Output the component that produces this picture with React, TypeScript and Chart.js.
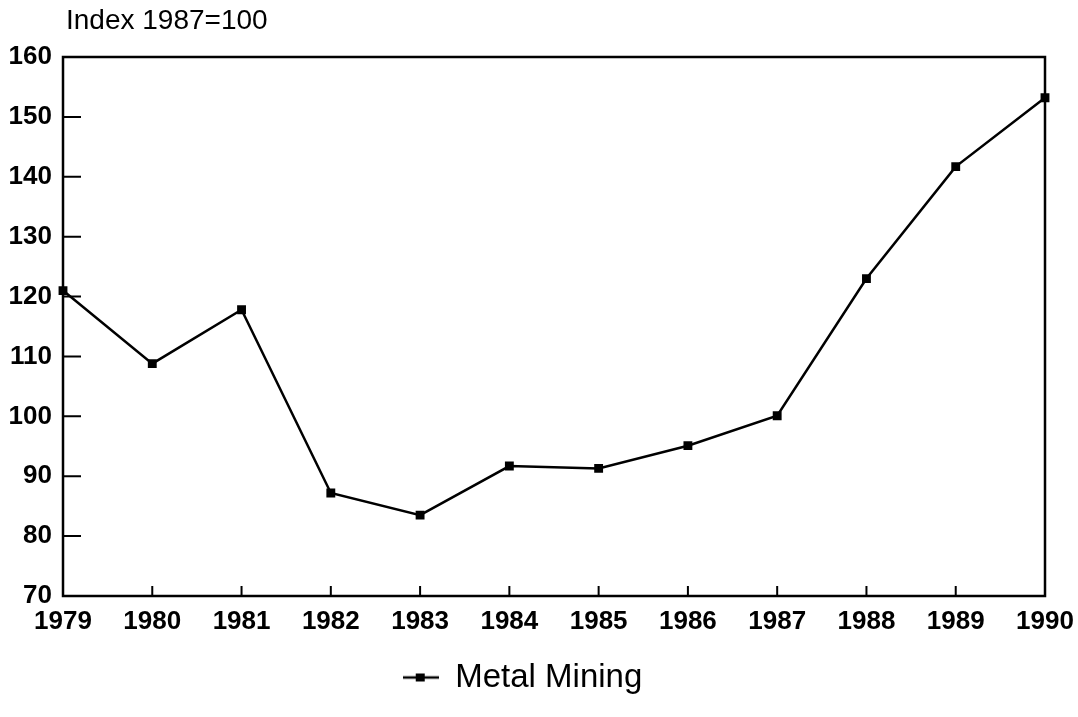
import React, { useEffect, useRef } from "react";
import { Chart, registerables } from "chart.js";

Chart.register(...registerables);

const years = ["1979", "1980", "1981", "1982", "1983", "1984", "1985", "1986", "1987", "1988", "1989", "1990"];
const metalMining = [121, 108.8, 117.8, 87.2, 83.5, 91.7, 91.3, 95.1, 100.1, 123, 141.7, 153.2];
const seriesLabel = "Metal Mining";
const yAxisTitle = "Index 1987=100";
const yMin = 70;
const yMax = 160;
const yStep = 10;

function makeLegendMarker(): HTMLCanvasElement {
  const c = document.createElement("canvas");
  c.width = 36;
  c.height = 12;
  const ctx = c.getContext("2d")!;
  ctx.strokeStyle = "#000";
  ctx.lineWidth = 2.5;
  ctx.beginPath();
  ctx.moveTo(0, 6);
  ctx.lineTo(36, 6);
  ctx.stroke();
  ctx.fillStyle = "#000";
  ctx.fillRect(13, 2, 9, 8);
  return c;
}

const framePlugin = {
  id: "frameAndTicks",
  afterDraw(chart: any) {
    const { ctx, chartArea } = chart;
    const xs = chart.scales.x;
    const ys = chart.scales.y;
    ctx.save();
    ctx.strokeStyle = "#000";
    ctx.lineWidth = 2.5;
    ctx.strokeRect(chartArea.left, chartArea.top, chartArea.right - chartArea.left, chartArea.bottom - chartArea.top);
    ctx.lineWidth = 2;
    ctx.beginPath();
    for (let i = 1; i < years.length - 1; i++) {
      const x = xs.getPixelForValue(i);
      ctx.moveTo(x, chartArea.bottom);
      ctx.lineTo(x, chartArea.bottom - 10);
    }
    for (let v = yMin + yStep; v < yMax; v += yStep) {
      const y = ys.getPixelForValue(v);
      ctx.moveTo(chartArea.left, y);
      ctx.lineTo(chartArea.left + 18, y);
    }
    ctx.stroke();
    ctx.fillStyle = "#000";
    ctx.font = "normal 28px 'Liberation Sans', Arial, sans-serif";
    ctx.textBaseline = "middle";
    ctx.textAlign = "left";
    ctx.fillText(yAxisTitle, chartArea.left + 3, 21);
    ctx.restore();
  },
};

export default function App() {
  const ref = useRef<HTMLCanvasElement>(null);
  useEffect(() => {
    if (!ref.current) return;
    const marker = makeLegendMarker();
    const chart = new Chart(ref.current, {
      type: "line",
      data: {
        labels: years,
        datasets: [
          {
            label: seriesLabel,
            data: metalMining,
            borderColor: "#000",
            backgroundColor: "#000",
            borderWidth: 2.5,
            pointStyle: "rect",
            pointRadius: 4.5,
            pointBackgroundColor: "#000",
            pointBorderColor: "#000",
            tension: 0,
          },
        ],
      },
      plugins: [framePlugin],
      options: {
        animation: false,
        responsive: true,
        maintainAspectRatio: false,
        layout: { padding: { top: 57, right: 33, bottom: 13, left: 0 } },
        plugins: {
          tooltip: { enabled: false },
          legend: {
            position: "bottom",
            labels: {
              usePointStyle: true,
              pointStyleWidth: 36,
              generateLabels: () => [
                {
                  text: seriesLabel,
                  pointStyle: marker as any,
                  fillStyle: "#000",
                  strokeStyle: "#000",
                  lineWidth: 0,
                  datasetIndex: 0,
                  fontColor: "#000",
                } as any,
              ],
              font: { family: "'Liberation Sans', Arial, sans-serif", size: 33 },
              color: "#000",
              padding: 10,
            },
          },
        },
        scales: {
          x: {
            type: "category",
            offset: false,
            grid: { display: false, drawTicks: false },
            border: { display: false },
            ticks: {
              color: "#000",
              padding: 10,
              maxRotation: 0,
              autoSkip: false,
              font: { family: "'Liberation Sans', Arial, sans-serif", size: 26, weight: "bold" },
            },
            afterFit: (s: any) => {
              s.height = 55;
              s.paddingLeft = 0;
              s.paddingRight = 0;
            },
          },
          y: {
            min: yMin,
            max: yMax,
            grid: { display: false, drawTicks: false },
            border: { display: false },
            ticks: {
              stepSize: yStep,
              color: "#000",
              padding: 11,
              font: { family: "'Liberation Sans', Arial, sans-serif", size: 26, weight: "bold" },
            },
            afterFit: (s: any) => {
              s.width = 63;
              s.paddingTop = 0;
              s.paddingBottom = 0;
            },
          },
        },
      },
    });
    return () => chart.destroy();
  }, []);
  return (
    <div style={{ position: "absolute", left: 0, top: 0, width: 1078, height: 717 }}>
      <canvas ref={ref} />
    </div>
  );
}
